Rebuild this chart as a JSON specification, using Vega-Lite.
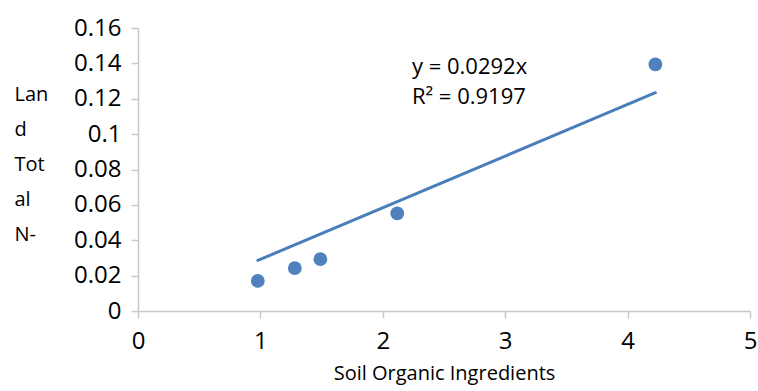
{
  "$schema": "https://vega.github.io/schema/vega-lite/v6.json",
  "autosize": "none",
  "width": 612,
  "height": 283,
  "padding": {"left": 138, "top": 28, "right": 8, "bottom": 80},
  "background": "white",
  "config": {
    "view": {"stroke": null},
    "font": "Open Sans",
    "axis": {
      "grid": false,
      "domainColor": "#C8C8C8",
      "domainWidth": 1.5,
      "tickColor": "#C8C8C8",
      "tickWidth": 1.5,
      "tickSize": 7,
      "labelFont": "Open Sans",
      "labelFontSize": 24,
      "labelColor": "#000000",
      "labelOverlap": false,
      "labelFlush": false,
      "titleFont": "Open Sans",
      "titleColor": "#000000",
      "titleFontWeight": "normal"
    }
  },
  "datasets": {
    "points": [
      {"soil": 0.979, "nitrogen": 0.017},
      {"soil": 1.281, "nitrogen": 0.0242},
      {"soil": 1.49, "nitrogen": 0.0293},
      {"soil": 2.118, "nitrogen": 0.0552},
      {"soil": 4.227, "nitrogen": 0.1394}
    ],
    "trend": [
      {"soil": 0.979, "nitrogen": 0.0286},
      {"soil": 4.227, "nitrogen": 0.1234}
    ],
    "label": [
      {"soil": 2.238, "nitrogen": 0.1382, "text": ["y = 0.0292x", "R² = 0.9197"]}
    ]
  },
  "layer": [
    {
      "data": {"name": "trend"},
      "mark": {"type": "line", "color": "#4A7EBB", "strokeWidth": 3, "strokeCap": "round"},
      "encoding": {
        "x": {
          "field": "soil", "type": "quantitative",
          "scale": {"domain": [0, 5], "nice": false, "zero": true},
          "axis": {
            "values": [0, 1, 2, 3, 4, 5],
            "tickCount": 10,
            "format": "~g",
            "labelOverlap": false,
            "title": "Soil Organic Ingredients",
            "titleFontSize": 20,
            "titlePadding": 10,
            "labelPadding": 11
          }
        },
        "y": {
          "field": "nitrogen", "type": "quantitative",
          "scale": {"domain": [0, 0.16], "nice": false},
          "axis": {
            "values": [0, 0.02, 0.04, 0.06, 0.08, 0.1, 0.12, 0.14, 0.16],
            "tickCount": 20,
            "format": "~g",
            "labelOverlap": false,
            "labelPadding": 10,
            "title": ["Lan", "d", "Tot", "al", "N-"],
            "titleAngle": 0,
            "titleFontSize": 20,
            "titleLineHeight": 35,
            "titleAlign": "left",
            "titleBaseline": "top",
            "titleX": -124,
            "titleY": 56
          }
        }
      }
    },
    {
      "data": {"name": "points"},
      "mark": {"type": "circle", "color": "#4F81BD", "opacity": 1, "size": 190},
      "encoding": {
        "x": {"field": "soil", "type": "quantitative"},
        "y": {"field": "nitrogen", "type": "quantitative"}
      }
    },
    {
      "data": {"name": "label"},
      "mark": {"type": "text", "align": "left", "baseline": "middle", "fontSize": 22, "lineHeight": 30, "color": "#000000", "font": "Open Sans"},
      "encoding": {
        "x": {"field": "soil", "type": "quantitative"},
        "y": {"field": "nitrogen", "type": "quantitative"},
        "text": {"field": "text"}
      }
    }
  ]
}
